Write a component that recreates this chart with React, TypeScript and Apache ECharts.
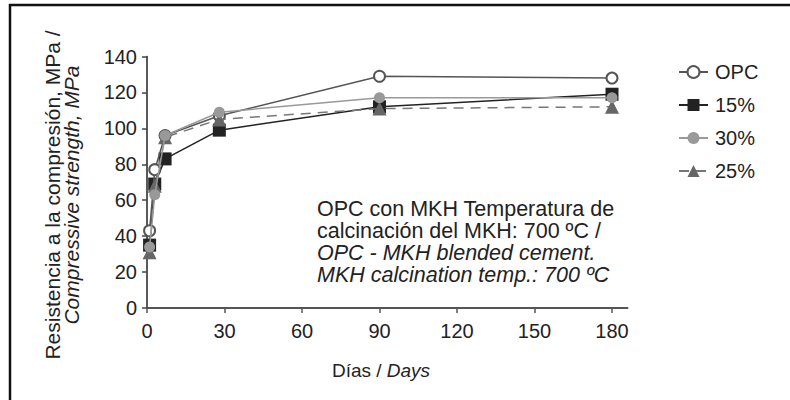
import React, { useEffect, useRef } from "react";
import * as echarts from "echarts";

const days = [1, 3, 7, 28, 90, 180];
const opc = [43, 77, 96, 107, 129, 128];
const p15 = [35, 69, 83, 99, 112, 119];
const p30 = [34, 63, 96, 109, 117, 117];
const p25 = [31, 68, 95, 105, 111, 112];
const xTicks = [0, 30, 60, 90, 120, 150, 180];
const seriesNames = ["OPC", "15%", "30%", "25%"];

const FONT = "'Liberation Sans', Arial, sans-serif";

export default function App() {
  const ref = useRef<HTMLDivElement>(null);
  useEffect(() => {
    document.body.style.margin = "0";
    const chart = echarts.init(ref.current!, null, { renderer: "svg" });
    const pts = (vals: number[]) => days.map((d, i) => [d, vals[i]]);
    chart.setOption({
      animation: false,
      backgroundColor: "#fff",
      textStyle: { fontFamily: FONT },
      grid: { left: 147, right: 162.5, top: 56.5, bottom: 92 },
      legend: {
        orient: "vertical",
        left: 673,
        top: 57,
        itemWidth: 29,
        itemHeight: 15,
        itemGap: 13,
        data: seriesNames,
        textStyle: { fontFamily: FONT, fontSize: 20, lineHeight: 20, color: "#222", padding: [0, 0, 0, 2] },
      },
      xAxis: {
        type: "value",
        min: 0,
        max: 186,
        interval: 30,
        splitLine: { show: false },
        axisLine: { lineStyle: { color: "#555", width: 2 } },
        axisTick: { length: 5, customValues: xTicks, lineStyle: { color: "#555", width: 1.5 } },
        axisLabel: { customValues: xTicks, fontFamily: FONT, fontSize: 20, color: "#222", margin: 13 },
      },
      yAxis: {
        type: "value",
        min: 0,
        max: 140,
        interval: 20,
        splitLine: { show: false },
        axisLine: { show: true, lineStyle: { color: "#222", width: 1.5 } },
        axisTick: { show: true, length: 5, lineStyle: { color: "#444", width: 1.5 } },
        axisLabel: { fontFamily: FONT, fontSize: 20, color: "#222", margin: 10 },
      },
      series: [
        {
          name: "OPC",
          type: "line",
          data: pts(opc),
          symbol: "emptyCircle",
          symbolSize: 11,
          z: 3,
          itemStyle: { color: "#555", borderColor: "#555", borderWidth: 2.5 },
          lineStyle: { color: "#555", width: 1.5 },
        },
        {
          name: "15%",
          type: "line",
          data: pts(p15),
          symbol: "rect",
          symbolSize: 13,
          z: 2,
          itemStyle: { color: "#222" },
          lineStyle: { color: "#222", width: 1.5 },
        },
        {
          name: "30%",
          type: "line",
          data: pts(p30),
          symbol: "circle",
          symbolSize: 11,
          z: 5,
          itemStyle: { color: "#999" },
          lineStyle: { color: "#999", width: 1.5 },
        },
        {
          name: "25%",
          type: "line",
          data: pts(p25),
          symbol: "triangle",
          symbolSize: 14,
          z: 4,
          itemStyle: { color: "#666" },
          lineStyle: { color: "#777", width: 1.5, type: [10, 7] },
        },
      ],
      graphic: [
        {
          type: "rect",
          shape: { x: 10, y: 5, width: 800, height: 420 },
          style: { fill: "none", stroke: "#111", lineWidth: 2.5 },
          silent: true,
        },
        {
          type: "text",
          x: 52,
          y: 195,
          rotation: Math.PI / 2,
          style: {
            text: "Resistencia a la compresión, MPa /",
            font: `21px ${FONT}`,
            fill: "#222",
            align: "center",
            verticalAlign: "middle",
          },
        },
        {
          type: "text",
          x: 71,
          y: 195,
          rotation: Math.PI / 2,
          style: {
            text: "Compressive strength, MPa",
            font: `italic 21px ${FONT}`,
            fill: "#222",
            align: "center",
            verticalAlign: "middle",
          },
        },
        {
          type: "text",
          x: 381,
          y: 370,
          style: {
            text: "{n|Días / }{i|Days}",
            align: "center",
            verticalAlign: "middle",
            rich: {
              n: { font: `19px ${FONT}`, fill: "#222" },
              i: { font: `italic 19px ${FONT}`, fill: "#222" },
            },
          },
        },
        {
          type: "text",
          x: 317,
          y: 242,
          style: {
            text: "{n|OPC con MKH Temperatura de}\n{n|calcinación del MKH: 700 ºC /}\n{i|OPC - MKH blended cement.}\n{i|MKH calcination temp.: 700 ºC}",
            align: "left",
            verticalAlign: "middle",
            rich: {
              n: { font: `21.5px ${FONT}`, fill: "#222", lineHeight: 22 },
              i: { font: `italic 21.5px ${FONT}`, fill: "#222", lineHeight: 22 },
            },
          },
        },
      ],
    });
    return () => chart.dispose();
  }, []);
  return <div ref={ref} style={{ width: 790, height: 400 }} />;
}
